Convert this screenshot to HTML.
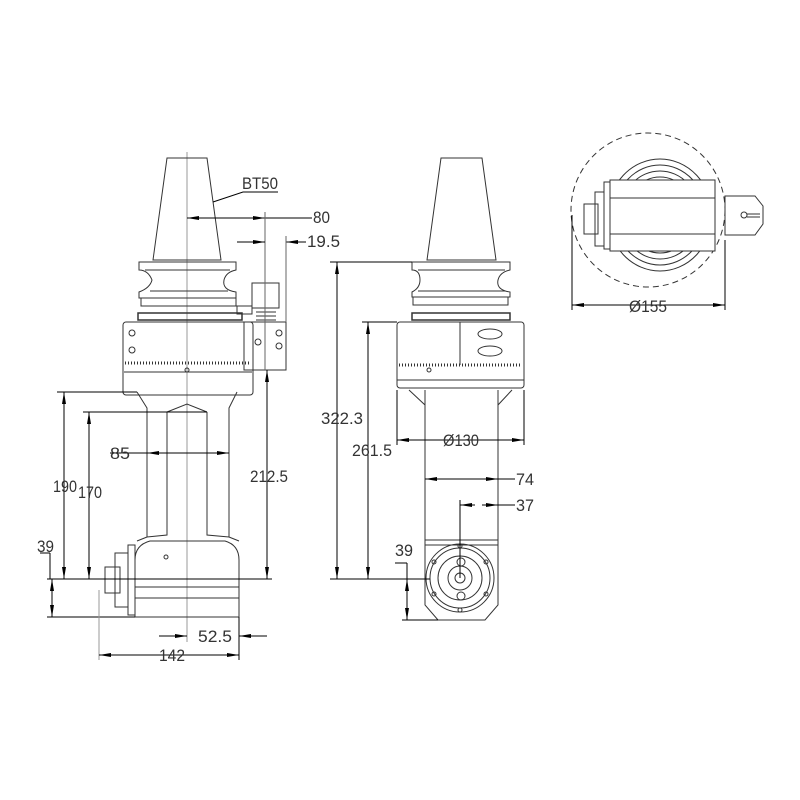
<!DOCTYPE html>
<html><head><meta charset="utf-8"><style>body{margin:0;background:#fff}svg{display:block}text{font-family:"Liberation Sans",sans-serif;font-size:17px;fill:#333}</style></head><body>
<svg width="800" height="800" viewBox="0 0 800 800" xmlns="http://www.w3.org/2000/svg">
<defs><marker id="a" markerWidth="12" markerHeight="6" refX="12" refY="3" orient="auto-start-reverse" markerUnits="userSpaceOnUse"><path d="M0,1 L12,3 L0,5z" fill="#000"/></marker></defs>
<rect width="800" height="800" fill="#fff"/>
<g fill="none" stroke="#333" stroke-width="1">
<line x1="187" y1="152" x2="187" y2="642" stroke="#999"/>
<path d="M167,158 L207,158 L221,260 L153,260 Z"/>
<path d="M139,262 L236,262 L236,270 Q226,272 224,280 Q222,290 236,292 L236,298 L139,298 L139,292 Q150,288 152,280 Q148,270 139,270 Z"/>
<line x1="145" y1="270" x2="230" y2="270"/><line x1="150" y1="291" x2="228" y2="291"/>
<rect x="141" y="298" width="95" height="8"/>
<rect x="138" y="313" width="104" height="7" stroke-width="1.5"/>
<rect x="123" y="322" width="130" height="73" rx="3"/>
<line x1="125" y1="363" x2="251" y2="363" stroke-width="3" stroke-dasharray="1 2"/>
<line x1="124" y1="372" x2="252" y2="372"/>
<circle cx="132" cy="333" r="3"/><circle cx="132" cy="350" r="3"/><circle cx="187" cy="370" r="2"/>
<rect x="252" y="283" width="27" height="25"/>
<path d="M256,308 h20 M256,312 h20 M256,316 h20 M256,320 h20"/>
<rect x="244" y="322" width="42" height="48"/>
<circle cx="258" cy="342" r="3"/><circle cx="279" cy="333" r="3"/><circle cx="279" cy="346" r="3"/>
<path d="M237,306 h15 v8 h-15z"/>
<path d="M137,392 L147,408 L147,537 L137,541 M237,392 L229,408 L229,537 L239,541"/>
<path d="M167,412 L167,535 L147,537 M207,412 L207,535 L229,537 M167,412 L187,404 L207,412"/>
<path d="M135,617 L135,560 Q135,545 150,541 L225,541 Q239,545 239,560 L239,617 Z"/>
<line x1="135" y1="587" x2="239" y2="587"/><line x1="135" y1="598" x2="239" y2="598"/>
<rect x="128" y="545" width="7" height="70"/>
<rect x="115" y="553" width="13" height="54"/>
<rect x="105" y="567" width="15" height="26"/>
<circle cx="166" cy="557" r="2"/>
<g stroke="#000">
<line x1="57" y1="392" x2="137" y2="392"/><line x1="83" y1="412" x2="207" y2="412"/>
<line x1="47" y1="579" x2="272" y2="579"/><line x1="47" y1="617" x2="135" y2="617"/>
<line x1="64" y1="392" x2="64" y2="579" marker-start="url(#a)" marker-end="url(#a)"/>
<line x1="89" y1="412" x2="89" y2="579" marker-start="url(#a)" marker-end="url(#a)"/>
<line x1="52" y1="579" x2="52" y2="617" marker-start="url(#a)" marker-end="url(#a)"/>
<line x1="40" y1="553" x2="50" y2="553"/><line x1="50" y1="553" x2="50" y2="579"/>
<line x1="147" y1="453" x2="229" y2="453" marker-start="url(#a)" marker-end="url(#a)"/>
<line x1="110" y1="453" x2="147" y2="453"/>
<line x1="267" y1="370" x2="267" y2="579" marker-start="url(#a)" marker-end="url(#a)"/>
<line x1="99" y1="590" x2="99" y2="660" stroke="#999"/><line x1="239" y1="617" x2="239" y2="660"/>
<line x1="99" y1="655" x2="239" y2="655" marker-start="url(#a)" marker-end="url(#a)"/>
<line x1="159" y1="636" x2="187" y2="636" marker-end="url(#a)"/>
<line x1="267" y1="636" x2="239" y2="636" marker-end="url(#a)"/>
<line x1="187" y1="218" x2="265" y2="218" marker-start="url(#a)" marker-end="url(#a)"/>
<line x1="265" y1="218" x2="312" y2="218"/>
<line x1="265" y1="212" x2="265" y2="370" stroke="#666"/>
<line x1="237" y1="242" x2="265" y2="242" marker-end="url(#a)"/>
<line x1="306" y1="242" x2="286" y2="242" marker-end="url(#a)"/>
<line x1="286" y1="236" x2="286" y2="322" stroke="#666"/>
<path d="M213,202 L243,192 L278,192"/>
</g>
<path d="M441,158 L482,158 L496,260 L427,260 Z"/>
<path d="M412,262 L510,262 L510,270 Q500,272 498,280 Q496,290 510,292 L510,297 L412,297 L412,292 Q420,288 420,280 Q420,270 412,270 Z"/>
<line x1="418" y1="270" x2="505" y2="270"/><line x1="418" y1="291" x2="505" y2="291"/>
<rect x="413" y="297" width="95" height="8"/>
<rect x="412" y="313" width="98" height="7" stroke-width="1.5"/>
<rect x="397" y="322" width="127" height="66" rx="3"/>
<line x1="399" y1="365" x2="522" y2="365" stroke-width="3" stroke-dasharray="1 2"/>
<line x1="460" y1="322" x2="460" y2="365"/>
<ellipse cx="490" cy="334" rx="12" ry="5"/><ellipse cx="490" cy="351" rx="12" ry="5"/>
<circle cx="429" cy="370" r="2"/>
<path d="M397,380 h127 M409,390 L425,405 L425,540 M512,390 L498,405 L498,540 M425,390 v15 M498,390 v15"/>
<path d="M425,540 L498,540 L498,605 L485,620 L438,620 L425,605 Z"/>
<line x1="425" y1="545" x2="498" y2="545"/>
<circle cx="460" cy="578" r="34"/><circle cx="460" cy="578" r="30"/><circle cx="460" cy="578" r="22"/><circle cx="460" cy="578" r="12"/><circle cx="460" cy="578" r="5"/>
<circle cx="461" cy="562" r="4"/><circle cx="461" cy="596" r="4"/>
<circle cx="460" cy="546" r="2"/><circle cx="460" cy="610" r="2"/><circle cx="434" cy="562" r="2"/><circle cx="486" cy="562" r="2"/><circle cx="434" cy="594" r="2"/><circle cx="486" cy="594" r="2"/>
<g stroke="#000">
<line x1="330" y1="262" x2="412" y2="262"/><line x1="362" y1="322" x2="397" y2="322"/>
<line x1="330" y1="579" x2="430" y2="579"/><line x1="402" y1="620" x2="438" y2="620"/>
<line x1="337" y1="262" x2="337" y2="579" marker-start="url(#a)" marker-end="url(#a)"/>
<line x1="368" y1="322" x2="368" y2="579" marker-start="url(#a)" marker-end="url(#a)"/>
<line x1="407" y1="579" x2="407" y2="620" marker-start="url(#a)" marker-end="url(#a)"/>
<line x1="395" y1="563" x2="407" y2="563"/><line x1="407" y1="563" x2="407" y2="579"/>
<line x1="397" y1="390" x2="397" y2="445"/><line x1="524" y1="390" x2="524" y2="445"/>
<line x1="397" y1="440" x2="524" y2="440" marker-start="url(#a)" marker-end="url(#a)"/>
<line x1="425" y1="479" x2="498" y2="479" marker-start="url(#a)" marker-end="url(#a)"/>
<line x1="498" y1="479" x2="515" y2="479"/>
<line x1="460" y1="500" x2="460" y2="578"/>
<line x1="475" y1="505" x2="460" y2="505" marker-end="url(#a)"/>
<line x1="482" y1="505" x2="498" y2="505" marker-end="url(#a)"/>
<line x1="498" y1="505" x2="515" y2="505"/>
</g>
<circle cx="648" cy="210" r="77" stroke-dasharray="6 4"/>
<ellipse cx="660" cy="215" rx="52" ry="56"/><ellipse cx="660" cy="215" rx="46" ry="50"/><ellipse cx="660" cy="215" rx="40" ry="44"/><ellipse cx="660" cy="215" rx="34" ry="38"/>
<rect x="610" y="180" width="105" height="71" fill="#fff"/>
<line x1="610" y1="198" x2="715" y2="198"/><line x1="610" y1="234" x2="715" y2="234"/>
<rect x="604" y="182" width="6" height="67" fill="#fff"/>
<rect x="595" y="192" width="9" height="54"/><rect x="584" y="204" width="14" height="30"/>
<path d="M725,196 L755,196 L763,206 L763,224 L755,235 L725,235 Z" fill="#fff"/>
<circle cx="744" cy="215" r="3"/><line x1="747" y1="214" x2="760" y2="214"/><line x1="747" y1="217" x2="760" y2="217"/>
<g stroke="#000">
<line x1="572" y1="215" x2="572" y2="310"/><line x1="725" y1="240" x2="725" y2="310"/>
<line x1="572" y1="305" x2="725" y2="305" marker-start="url(#a)" marker-end="url(#a)"/>
</g>
</g>
<g lengthAdjust="spacingAndGlyphs">
<text x="242" y="189" textLength="36" lengthAdjust="spacingAndGlyphs">BT50</text>
<text x="313" y="223" textLength="17" lengthAdjust="spacingAndGlyphs">80</text>
<text x="307" y="247" textLength="33" lengthAdjust="spacingAndGlyphs">19.5</text>
<text x="110" y="459" textLength="20" lengthAdjust="spacingAndGlyphs">85</text>
<text x="53" y="492" textLength="24" lengthAdjust="spacingAndGlyphs">190</text>
<text x="78" y="498" textLength="24" lengthAdjust="spacingAndGlyphs">170</text>
<text x="37" y="552" textLength="17" lengthAdjust="spacingAndGlyphs">39</text>
<text x="250" y="482" textLength="38" lengthAdjust="spacingAndGlyphs">212.5</text>
<text x="198" y="642" textLength="34" lengthAdjust="spacingAndGlyphs">52.5</text>
<text x="159" y="661" textLength="26" lengthAdjust="spacingAndGlyphs">142</text>
<text x="321" y="424" textLength="42" lengthAdjust="spacingAndGlyphs">322.3</text>
<text x="352" y="456" textLength="40" lengthAdjust="spacingAndGlyphs">261.5</text>
<text x="443" y="446" textLength="36" lengthAdjust="spacingAndGlyphs">Ø130</text>
<text x="516" y="485" textLength="18" lengthAdjust="spacingAndGlyphs">74</text>
<text x="516" y="511" textLength="18" lengthAdjust="spacingAndGlyphs">37</text>
<text x="395" y="556" textLength="18" lengthAdjust="spacingAndGlyphs">39</text>
<text x="629" y="312" textLength="38" lengthAdjust="spacingAndGlyphs">Ø155</text>
</g>
</svg>
</body></html>
